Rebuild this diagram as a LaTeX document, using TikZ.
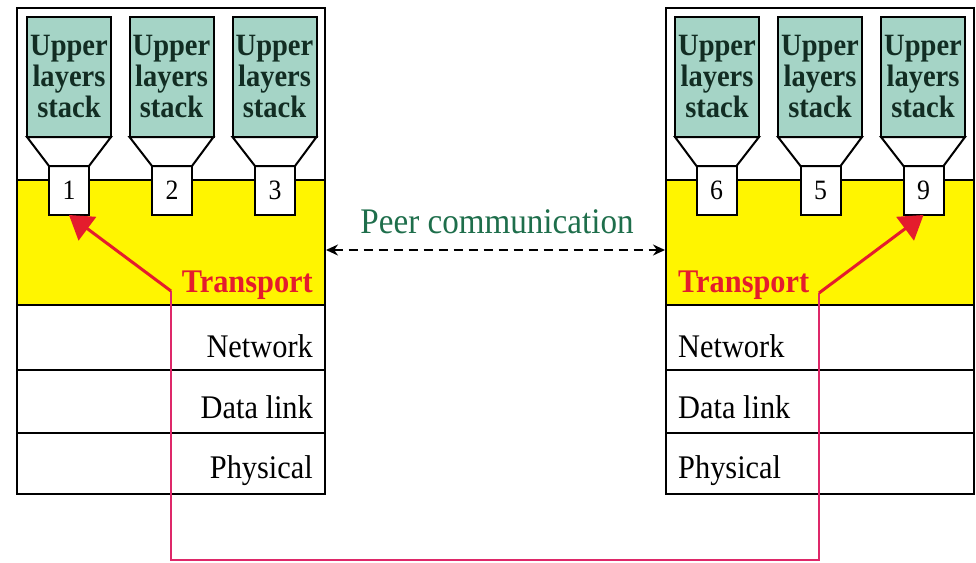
\documentclass[tikz,border=0pt]{standalone}
\usepackage{fontspec}
\setmainfont{Liberation Serif}
\newfontfamily\tallserif[FakeStretch=0.92]{Liberation Serif}
\usetikzlibrary{arrows.meta}
\definecolor{stackfill}{RGB}{165,212,198}
\definecolor{stacktext}{RGB}{18,45,35}
\definecolor{layeryellow}{RGB}{255,245,0}
\definecolor{transred}{RGB}{228,28,45}
\definecolor{pathpink}{RGB}{222,40,105}
\definecolor{peergreen}{RGB}{30,110,75}
\begin{document}
\begin{tikzpicture}[x=1pt,y=-1pt, line join=miter,
  stackbox/.style={draw, line width=2pt, fill=stackfill, minimum width=84pt, minimum height=120pt, inner sep=0pt, outer sep=0pt, align=center, text=stacktext, font=\tallserif\fontsize{31}{31}\selectfont\bfseries},
  portbox/.style={draw, line width=2pt, fill=white, minimum width=40pt, minimum height=49pt, inner sep=0pt, outer sep=0pt, font=\tallserif\fontsize{28}{28}\selectfont},
  hostbox/.style={draw, line width=2pt, minimum width=308pt, inner sep=0pt, outer sep=0pt},
  funnel/.style={draw, line width=2pt, fill=white},
  layertext/.style={inner sep=0pt, font=\tallserif\fontsize{33}{33}\selectfont},
  transtext/.style={inner sep=0pt, text=transred, font=\tallserif\fontsize{33}{33}\selectfont\bfseries},
  redpath/.style={draw=pathpink, line width=1.6pt},
  redarrow/.style={draw=transred, line width=3pt, -{Triangle[length=23pt,width=29pt]}, fill=transred}
]
\useasboundingbox (0,0) rectangle (976,562);

% left host
\node[hostbox, minimum height=172pt] (Lup) at (171,94) {};
\node[hostbox, fill=layeryellow, minimum height=125pt] (Ltr) at (171,242.5) {};
\node[hostbox, minimum height=65pt] (Lnet) at (171,337.5) {};
\node[hostbox, minimum height=63pt] (Ldl) at (171,401.5) {};
\node[hostbox, minimum height=61pt] (Lph) at (171,463.5) {};

% right host
\node[hostbox, minimum height=172pt] (Rup) at (820,94) {};
\node[hostbox, fill=layeryellow, minimum height=125pt] (Rtr) at (820,242.5) {};
\node[hostbox, minimum height=65pt] (Rnet) at (820,337.5) {};
\node[hostbox, minimum height=63pt] (Rdl) at (820,401.5) {};
\node[hostbox, minimum height=61pt] (Rph) at (820,463.5) {};

% stacks and ports (left)
\node[stackbox] (S1) at (69,77) {Upper\\layers\\stack};
\node[stackbox] (S2) at (171.5,77) {Upper\\layers\\stack};
\node[stackbox] (S3) at (274.5,77) {Upper\\layers\\stack};
\node[portbox] (P1) at (69,190.5) {1};
\node[portbox] (P2) at (172,190.5) {2};
\node[portbox] (P3) at (275,190.5) {3};
% stacks and ports (right)
\node[stackbox] (S6) at (717,77) {Upper\\layers\\stack};
\node[stackbox] (S5) at (820,77) {Upper\\layers\\stack};
\node[stackbox] (S9) at (923,77) {Upper\\layers\\stack};
\node[portbox] (P6) at (716.5,190.5) {6};
\node[portbox] (P5) at (820.5,190.5) {5};
\node[portbox] (P9) at (923.5,190.5) {9};

% funnels
\foreach \s/\p in {S1/P1,S2/P2,S3/P3,S6/P6,S5/P5,S9/P9}{
  \draw[funnel] (\s.south west) -- (\s.south east) -- (\p.north east) -- (\p.north west) -- cycle;
}

% layer labels
\node[transtext, anchor=base east] (LtrT) at (313,292) {Transport};
\node[layertext, anchor=base east] (LnetT) at (313,357) {Network};
\node[layertext, anchor=base east] (LdlT) at (313,418) {Data link};
\node[layertext, anchor=base east] (LphT) at (313,478) {Physical};
\node[transtext, anchor=base west] (RtrT) at (678,292) {Transport};
\node[layertext, anchor=base west] (RnetT) at (678,357) {Network};
\node[layertext, anchor=base west] (RdlT) at (678,418) {Data link};
\node[layertext, anchor=base west] (RphT) at (678,478) {Physical};

% peer communication
\coordinate (peerL) at (326,250);
\coordinate (peerR) at (665,250);
\draw[line width=1.6pt, dash pattern=on 9pt off 6pt, {Stealth[length=12pt,width=11pt]}-{Stealth[length=12pt,width=11pt]}] (peerL) -- (peerR);
\node[anchor=base, inner sep=0pt, text=peergreen, font=\tallserif\fontsize{36}{36}\selectfont] (peer) at (497,233) {Peer communication};

% red path
\coordinate (bendL) at (171,291);
\coordinate (bendR) at (819,293);
\coordinate (botR) at (819,560);
\draw[redpath] (bendL) |- (botR) -- (bendR);
\draw[redarrow] (bendL) -- (P1.south);
\draw[redarrow] (bendR) -- (P9.south);
\end{tikzpicture}
\end{document}
